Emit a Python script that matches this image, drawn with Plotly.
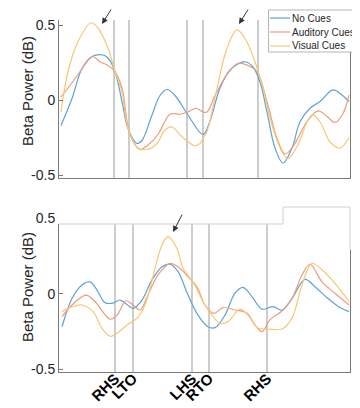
import plotly.graph_objects as go

# The page body adds an 8 px margin, so the figure is sized to the remaining area.
OFF = 8
W, H = 360 - OFF, 408 - OFF
def fx(x):
    return (x - OFF) / W
def fy(y):
    return 1 - (y - OFF) / H

# ---------------- data (x in samples, y in dB) ----------------
series_names = ["No Cues", "Auditory Cues", "Visual Cues"]
series_colors = ["#5aa3db", "#ee9c7e", "#f6c873"]

# Top panel
top_none_x = [2, 13, 23, 33, 44, 49, 56, 63, 69, 78, 83, 93, 101, 108, 116, 129, 144, 151, 161, 171, 179, 186, 194, 201, 208, 216, 224, 233, 241, 251, 261, 274, 283, 290]
top_none_y = [-0.17, 0.01, 0.21, 0.29, 0.30, 0.28, 0.19, -0.01, -0.19, -0.29, -0.27, -0.10, 0.03, 0.07, 0.03, -0.10, -0.23, -0.14, 0.08, 0.20, 0.24, 0.255, 0.22, 0.12, -0.08, -0.32, -0.42, -0.32, -0.145, -0.055, -0.01, 0.067, 0.033, -0.01]

top_aud_x = [2, 9, 19, 28, 34, 41, 49, 56, 63, 71, 81, 89, 99, 111, 121, 129, 137, 144, 148, 156, 168, 179, 189, 198, 208, 218, 226, 234, 248, 259, 268, 276, 284, 290]
top_aud_y = [0.02, 0.08, 0.17, 0.255, 0.29, 0.255, 0.23, 0.19, 0.08, -0.23, -0.33, -0.30, -0.23, -0.095, -0.095, -0.08, -0.055, -0.08, -0.08, 0.03, 0.17, 0.245, 0.23, 0.19, -0.01, -0.255, -0.36, -0.31, -0.145, -0.073, -0.11, -0.15, -0.09, 0.033]

top_vis_x = [2, 9, 19, 32, 39, 49, 56, 63, 69, 79, 88, 98, 106, 113, 123, 136, 141, 144, 148, 158, 168, 178, 186, 196, 204, 213, 223, 229, 238, 253, 261, 271, 281, 290]
top_vis_y = [-0.08, 0.19, 0.39, 0.515, 0.48, 0.345, 0.19, 0.055, -0.19, -0.32, -0.33, -0.29, -0.20, -0.18, -0.245, -0.305, -0.29, -0.255, -0.21, 0.078, 0.345, 0.467, 0.41, 0.255, 0.078, -0.167, -0.345, -0.39, -0.31, -0.10, -0.145, -0.28, -0.32, -0.25]

# Bottom panel
bot_none_x = [3, 13, 23, 31, 38, 46, 54, 61, 68, 74, 83, 93, 103, 111, 119, 129, 139, 149, 156, 166, 176, 184, 193, 203, 214, 223, 233, 246, 256, 269, 281, 290]
bot_none_y = [-0.217, -0.03, 0.06, 0.08, 0.026, -0.058, -0.06, -0.04, -0.07, -0.095, -0.04, 0.093, 0.18, 0.197, 0.148, -0.007, -0.14, -0.217, -0.223, -0.14, 0.005, 0.044, -0.018, -0.10, -0.084, -0.106, -0.03, 0.097, 0.048, -0.03, -0.09, -0.117]

bot_aud_x = [3, 13, 27, 36, 51, 58, 67, 74, 81, 89, 99, 111, 119, 129, 138, 146, 155, 164, 176, 188, 196, 203, 211, 223, 233, 243, 251, 263, 276, 290]
bot_aud_y = [-0.15, -0.073, -0.007, -0.05, -0.167, -0.14, -0.045, -0.073, -0.106, -0.007, 0.126, 0.203, 0.18, 0.115, 0.048, -0.073, -0.128, -0.09, -0.106, -0.128, -0.205, -0.25, -0.17, -0.113, -0.03, 0.126, 0.197, 0.08, 0.005, -0.073]

bot_vis_x = [3, 13, 23, 34, 43, 51, 58, 68, 78, 86, 96, 103, 109, 118, 124, 134, 144, 153, 161, 169, 181, 189, 199, 209, 223, 233, 243, 253, 263, 276, 290]
bot_vis_y = [-0.117, -0.084, -0.073, -0.117, -0.227, -0.28, -0.26, -0.205, -0.16, -0.073, 0.17, 0.325, 0.38, 0.30, 0.17, 0.08, -0.05, -0.14, -0.194, -0.183, -0.10, -0.14, -0.227, -0.232, -0.232, -0.16, 0.06, 0.203, 0.16, 0.07, -0.05]

top_events = [55, 70, 128, 144, 199]
bot_events = [56, 74, 133, 150, 208]
event_labels = ["RHS", "LTO", "LHS", "RTO", "RHS"]
ytick_vals = [-0.5, 0, 0.5]
ytick_text = ["-0.5", "0", "0.5"]

FONT = "Liberation Sans, Arial, sans-serif"

fig = go.Figure()
top_sets = [(top_none_x, top_none_y), (top_aud_x, top_aud_y), (top_vis_x, top_vis_y)]
bot_sets = [(bot_none_x, bot_none_y), (bot_aud_x, bot_aud_y), (bot_vis_x, bot_vis_y)]
for i, (xs, ys) in enumerate(top_sets):
    fig.add_trace(go.Scatter(x=xs, y=ys, mode="lines", name=series_names[i],
                             line=dict(color=series_colors[i], width=1.2, shape="spline", smoothing=1.0),
                             xaxis="x", yaxis="y", showlegend=False))
for i, (xs, ys) in enumerate(bot_sets):
    fig.add_trace(go.Scatter(x=xs, y=ys, mode="lines", name=series_names[i],
                             line=dict(color=series_colors[i], width=1.2, shape="spline", smoothing=1.0),
                             xaxis="x2", yaxis="y2", showlegend=False))

ax_line = "#7a7a7a"
common_y = dict(tickvals=ytick_vals, ticktext=ytick_text, ticks="inside", ticklen=4,
                tickcolor=ax_line, showline=True, linecolor=ax_line, linewidth=1, mirror=True,
                showgrid=False, zeroline=False, tickfont=dict(family=FONT, size=14, color="#262626"))

fig.update_layout(
    width=W, height=H,
    margin=dict(l=0, r=0, t=0, b=0, autoexpand=False),
    paper_bgcolor="white", plot_bgcolor="white",
    showlegend=False,
    xaxis=dict(domain=[fx(59), fx(350)], range=[0, 291], showticklabels=False, ticks="",
               showline=True, linecolor=ax_line, showgrid=False, zeroline=False, anchor="y"),
    yaxis=dict(domain=[fy(178), fy(20)], range=[-0.52, 0.5333], anchor="x", **common_y),
    xaxis2=dict(domain=[fx(59), fx(350)], range=[0, 291], tickvals=bot_events, ticktext=event_labels,
                tickangle=-45, ticks="", showline=True, linecolor=ax_line, showgrid=False,
                zeroline=False, anchor="y2", ticklabelstandoff=-9,
                tickfont=dict(family=FONT, size=15, color="#000000", weight="bold")),
    yaxis2=dict(domain=[fy(372), fy(207)], range=[-0.5166, 0.576], anchor="x2", **common_y),
)

shapes = []
for e in top_events:
    shapes.append(dict(type="line", xref="x", yref="y domain", x0=e, x1=e, y0=0, y1=1,
                       line=dict(color="#bdbdbd", width=1.5), layer="below"))
for e in bot_events:
    shapes.append(dict(type="line", xref="x2", yref="y2 domain", x0=e, x1=e, y0=0, y1=1,
                       line=dict(color="#bdbdbd", width=1.5), layer="below"))
# white box covering top of lower panel
shapes.append(dict(type="rect", xref="paper", yref="paper", x0=fx(57), x1=fx(352), y0=fy(224), y1=fy(205),
                   fillcolor="white", line=dict(width=0), layer="above"))
shapes.append(dict(type="rect", xref="paper", yref="paper", x0=fx(283), x1=fx(352), y0=fy(250), y1=fy(205),
                   fillcolor="white", line=dict(width=0), layer="above"))
path = "M {} {} L {} {} L {} {} L {} {} L {} {}".format(
    fx(59), fy(224), fx(283), fy(224), fx(283), fy(207), fx(350), fy(207), fx(350), fy(250))
shapes.append(dict(type="path", xref="paper", yref="paper", path=path,
                   line=dict(color="#d0d0d0", width=1), layer="above"))

# legend box (drawn like the original's small legend)
shapes.append(dict(type="rect", xref="paper", yref="paper", x0=fx(268.5), x1=fx(357), y0=fy(52), y1=fy(10),
                   fillcolor="white", line=dict(color="#b5b5b5", width=1), layer="above"))
legend_rows = [18, 32, 46]
annotations = []
for i, ry in enumerate(legend_rows):
    shapes.append(dict(type="line", xref="paper", yref="paper", x0=fx(270), x1=fx(290), y0=fy(ry), y1=fy(ry),
                       line=dict(color=series_colors[i], width=1.2), layer="above"))
    annotations.append(dict(xref="paper", yref="paper", x=fx(290), y=fy(ry), text=series_names[i],
                            xanchor="left", yanchor="middle", showarrow=False,
                            font=dict(family=FONT, size=10, color="#262626")))
fig.update_layout(shapes=shapes)

for ycen in [fy(91), fy(287)]:
    annotations.append(dict(xref="paper", yref="paper", x=fx(27), y=ycen, text="Beta Power (dB)",
                            textangle=-90, showarrow=False, xanchor="center", yanchor="middle",
                            font=dict(family=FONT, size=15, color="#262626")))
for (hx, hy, tx, ty) in [(102, 24, 112, 2), (239, 24, 249, 4), (173, 232, 183, 213)]:
    annotations.append(dict(xref="paper", yref="paper", x=fx(hx), y=fy(hy), ax=tx - hx, ay=ty - hy,
                            text="", showarrow=True, arrowhead=2, arrowsize=1.2, arrowwidth=1,
                            arrowcolor="#333333"))
fig.update_layout(annotations=annotations)

fig.write_html("out.html")
